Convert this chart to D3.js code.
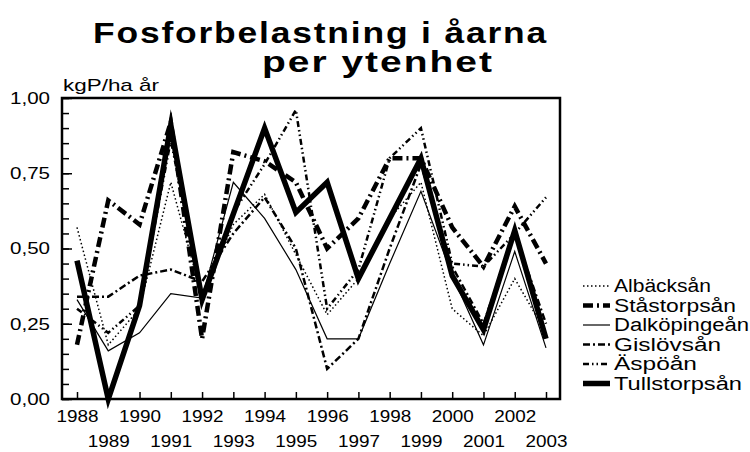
<!DOCTYPE html>
<html>
<head>
<meta charset="utf-8">
<script src="https://cdn.jsdelivr.net/npm/d3@7"></script>
<style>
body { margin: 0; background: #fff; }
svg text { font-family: "Liberation Sans", Arial, sans-serif; fill: #000; }
</style>
</head>
<body>
<script>
var years = [1988, 1989, 1990, 1991, 1992, 1993, 1994, 1995, 1996, 1997, 1998, 1999, 2000, 2001, 2002, 2003];

var albacksan   = [0.57, 0.18, 0.30, 0.72, 0.34, 0.58, 0.68, 0.48, 0.28, 0.40, 0.60, 0.72, 0.30, 0.21, 0.40, 0.22];
var stastorpsan = [0.18, 0.66, 0.58, 0.92, 0.20, 0.82, 0.79, 0.72, 0.50, 0.60, 0.80, 0.80, 0.57, 0.44, 0.64, 0.45];
var dalkopingean = [0.33, 0.16, 0.22, 0.35, 0.335, 0.72, 0.60, 0.43, 0.20, 0.20, 0.45, 0.69, 0.41, 0.18, 0.49, 0.17];
var gislovsan   = [0.34, 0.34, 0.41, 0.43, 0.39, 0.55, 0.67, 0.50, 0.10, 0.20, 0.50, 0.78, 0.44, 0.25, 0.55, 0.25];
var aspoan      = [0.30, 0.22, 0.31, 0.86, 0.34, 0.62, 0.78, 0.96, 0.30, 0.43, 0.80, 0.90, 0.45, 0.44, 0.55, 0.67];
var tullstorpsan = [0.46, 0.00, 0.31, 0.91, 0.33, 0.615, 0.90, 0.62, 0.72, 0.40, 0.60, 0.80, 0.41, 0.23, 0.56, 0.20];

var seriesNames = ["Albäcksån", "Ståstorpsån", "Dalköpingeån", "Gislövsån", "Äspöån", "Tullstorpsån"];
var yMajorTicks = [0, 0.25, 0.5, 0.75, 1];
var yMinorTicks = [0, 0.05, 0.1, 0.15, 0.2, 0.25, 0.3, 0.35, 0.4, 0.45, 0.5, 0.55, 0.6, 0.65, 0.7, 0.75, 0.8, 0.85, 0.9, 0.95, 1];

var svgWidth = 750;
var svgHeight = 452;
var plotLeft = 62, plotRight = 560, plotTop = 98, plotBottom = 399;

// line look for each series, same order as seriesNames
var styles = [
    { width: 1.5, dash: "1.5,2.5" },
    { width: 4.5, dash: "10,4,2,4" },
    { width: 1.2, dash: null },
    { width: 2.5, dash: "7,3,2,3" },
    { width: 2.5, dash: "6,3,1.5,3,1.5,3" },
    { width: 5.5, dash: null }
];

var x = d3.scaleLinear().domain([1988, 2003]).range([77, 546]);
var y = d3.scaleLinear().domain([0, 1]).range([plotBottom, plotTop]);

var svg = d3.select("body")
    .append("svg")
    .attr("width", svgWidth)
    .attr("height", svgHeight);

// title, two lines
svg.append("text")
    .text("Fosforbelastning i åarna")
    .attr("x", 93)
    .attr("y", 43)
    .attr("font-size", "29px")
    .attr("font-weight", "bold")
    .style("letter-spacing", "1.5px")
    .attr("textLength", 455)
    .attr("lengthAdjust", "spacingAndGlyphs");

svg.append("text")
    .text("per ytenhet")
    .attr("x", 262)
    .attr("y", 72)
    .attr("font-size", "29px")
    .attr("font-weight", "bold")
    .style("letter-spacing", "1.5px")
    .attr("textLength", 232)
    .attr("lengthAdjust", "spacingAndGlyphs");

// unit
svg.append("text")
    .text("kgP/ha år")
    .attr("x", 63)
    .attr("y", 91)
    .attr("font-size", "17px")
    .attr("textLength", 96)
    .attr("lengthAdjust", "spacingAndGlyphs");

// y ticks (minor, then major with labels)
svg.append("g")
    .attr("transform", "translate(" + plotLeft + ",0)")
    .call(d3.axisLeft(y).tickValues(yMinorTicks).tickSize(-7).tickFormat(""))
    .call(g => g.select(".domain").remove())
    .selectAll("line").attr("stroke", "#000").attr("stroke-width", 1.5);

var commaFormat = d3.formatLocale({ decimal: ",", thousands: " ", grouping: [3], currency: ["", ""] }).format(".2f");

var yAxis = svg.append("g")
    .attr("transform", "translate(" + plotLeft + ",0)")
    .call(d3.axisLeft(y).tickValues(yMajorTicks).tickSize(-10).tickPadding(12).tickFormat(commaFormat));
yAxis.select(".domain").remove();
yAxis.selectAll("line").attr("stroke", "#000").attr("stroke-width", 1.5);
yAxis.selectAll("text")
    .attr("font-size", "17px")
    .attr("font-family", "Liberation Sans, Arial, sans-serif")
    .attr("fill", "#000")
    .attr("textLength", 40)
    .attr("lengthAdjust", "spacingAndGlyphs");

// x ticks, labels on two rows
var xAxis = svg.append("g")
    .attr("transform", "translate(0," + plotBottom + ")")
    .call(d3.axisBottom(x).tickValues(years).tickSize(-7).tickFormat(d3.format("d")));
xAxis.select(".domain").remove();
xAxis.selectAll("line").attr("stroke", "#000").attr("stroke-width", 1.5);
xAxis.selectAll("text")
    .attr("font-size", "17px")
    .attr("font-family", "Liberation Sans, Arial, sans-serif")
    .attr("fill", "#000")
    .attr("dy", null)
    .attr("y", (d, i) => i % 2 === 0 ? 23 : 48)
    .attr("textLength", 42)
    .attr("lengthAdjust", "spacingAndGlyphs");

// plot frame
svg.append("rect")
    .attr("x", plotLeft)
    .attr("y", plotTop)
    .attr("width", plotRight - plotLeft)
    .attr("height", plotBottom - plotTop)
    .attr("fill", "none")
    .attr("stroke", "#000")
    .attr("stroke-width", 2.5);

// the lines
var allSeries = [albacksan, stastorpsan, dalkopingean, gislovsan, aspoan, tullstorpsan];

var line = d3.line()
    .x((d, i) => x(years[i]))
    .y(d => y(d));

svg.selectAll("path.series")
    .data(allSeries)
    .enter()
    .append("path")
    .attr("class", "series")
    .attr("d", d => line(d))
    .attr("fill", "none")
    .attr("stroke", "#000")
    .attr("stroke-width", (d, i) => styles[i].width)
    .attr("stroke-dasharray", (d, i) => styles[i].dash)
    .attr("stroke-linejoin", "miter")
    .attr("stroke-miterlimit", 10);

// legend
var legendTop = 286;
var legendStep = 19.5;
var legendWidths = [97, 122, 135, 107, 83, 128];

var legend = svg.selectAll("g.legend")
    .data(seriesNames)
    .enter()
    .append("g")
    .attr("class", "legend")
    .attr("transform", (d, i) => "translate(0," + (legendTop + i * legendStep) + ")");

legend.append("line")
    .attr("x1", 583)
    .attr("x2", 610)
    .attr("y1", 0)
    .attr("y2", 0)
    .attr("stroke", "#000")
    .attr("stroke-width", (d, i) => styles[i].width)
    .attr("stroke-dasharray", (d, i) => styles[i].dash);

legend.append("text")
    .text(d => d)
    .attr("x", 614)
    .attr("y", 6)
    .attr("font-size", "18px")
    .attr("textLength", (d, i) => legendWidths[i])
    .attr("lengthAdjust", "spacingAndGlyphs");
</script>
</body>
</html>
